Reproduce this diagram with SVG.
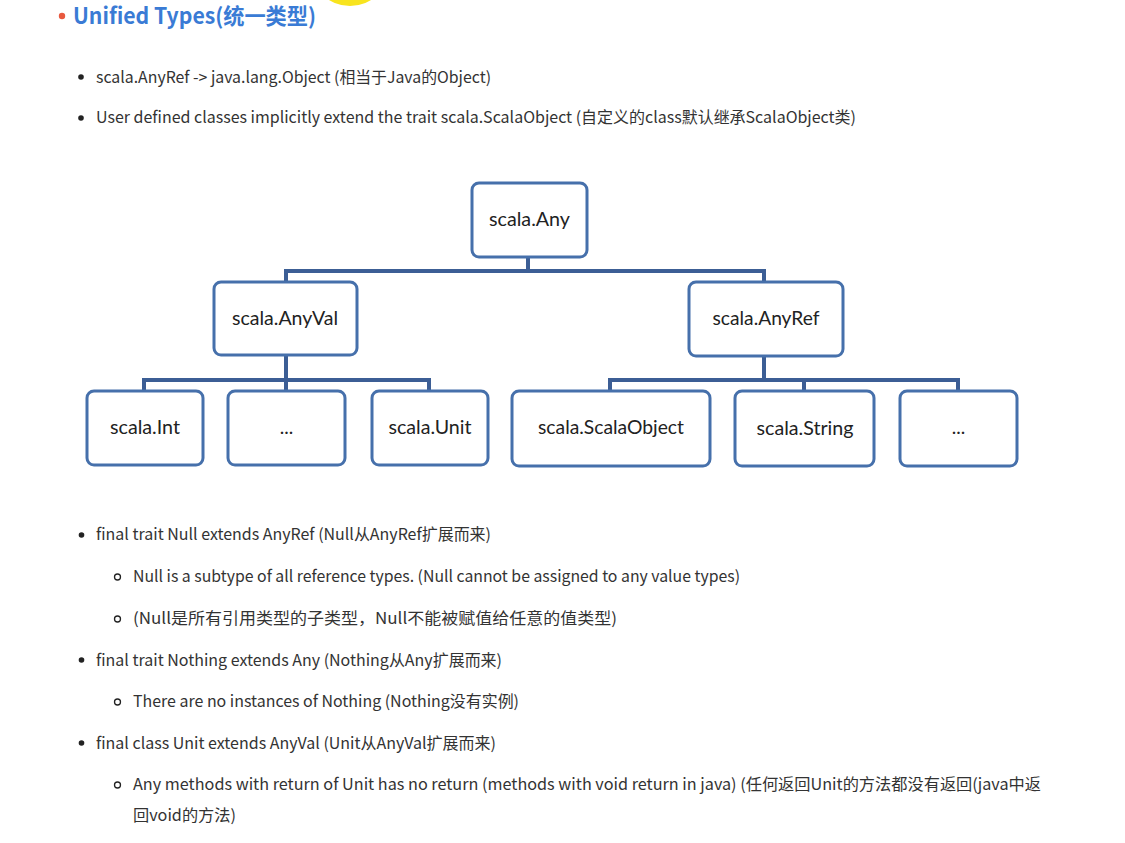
<svg xmlns="http://www.w3.org/2000/svg" width="1125" height="843" viewBox="0 0 1125 843">
<defs>
<style>
.body{font-family:"Noto Sans CJK SC","Noto Sans",sans-serif;font-size:16px;fill:#333333;}
.title{font-family:"Noto Sans CJK SC","Noto Sans",sans-serif;font-size:22px;font-weight:bold;fill:#3a7bd5;}
.box{fill:#ffffff;stroke:#4670ab;stroke-width:3;}
.lbl{font-family:Lato,"Liberation Sans",sans-serif;font-size:19px;fill:#222222;text-anchor:middle;}
.conn{fill:none;stroke:#3c5e95;stroke-width:4;stroke-linejoin:miter;}
.dot{fill:#222222;}
.sub{fill:none;stroke:#222222;stroke-width:1.3;}
</style>
</defs>
<rect width="1125" height="843" fill="#ffffff"/>
<circle cx="350" cy="-34" r="40" fill="#f8e41e"/>

<g id="title">
<circle cx="62" cy="16" r="3.2" fill="#e8593f"/>
<text class="title" x="73" y="24" textLength="243" lengthAdjust="spacingAndGlyphs">Unified Types(统一类型)</text>
</g>

<g id="top-bullets">
<circle class="dot" cx="81" cy="77" r="2.8"/>
<text class="body" x="96" y="83" textLength="395" lengthAdjust="spacingAndGlyphs">scala.AnyRef -&gt; java.lang.Object (相当于Java的Object)</text>
<circle class="dot" cx="81" cy="118" r="2.8"/>
<text class="body" x="96" y="123" textLength="760" lengthAdjust="spacingAndGlyphs">User defined classes implicitly extend the trait scala.ScalaObject (自定义的class默认继承ScalaObject类)</text>
</g>

<g id="connectors">
<path class="conn" d="M528 257 V271 M286 271 H764 M286 269 V282 M764 269 V282"/>
<path class="conn" d="M286 355 V380 M144 380 H429 M144 378 V391 M286 378 V391 M429 378 V391"/>
<path class="conn" d="M764 356 V380 M610 380 H958 M610 378 V391 M804 378 V391 M958 378 V391"/>
</g>

<g id="node-any">
<rect class="box" x="472" y="183" width="115" height="74" rx="7"/>
<text class="lbl" x="529.5" y="226" textLength="81" lengthAdjust="spacingAndGlyphs">scala.Any</text>
</g>
<g id="node-anyval">
<rect class="box" x="214" y="282" width="143" height="73" rx="7"/>
<text class="lbl" x="285" y="325" textLength="106" lengthAdjust="spacingAndGlyphs">scala.AnyVal</text>
</g>
<g id="node-anyref">
<rect class="box" x="689" y="282" width="154" height="74" rx="7"/>
<text class="lbl" x="766" y="325" textLength="107" lengthAdjust="spacingAndGlyphs">scala.AnyRef</text>
</g>
<g id="node-int">
<rect class="box" x="87" y="391" width="116" height="74" rx="7"/>
<text class="lbl" x="145" y="434" textLength="70" lengthAdjust="spacingAndGlyphs">scala.Int</text>
</g>
<g id="node-val-more">
<rect class="box" x="228" y="391" width="117" height="74" rx="7"/>
<text class="lbl" x="286.5" y="434">...</text>
</g>
<g id="node-unit">
<rect class="box" x="372" y="391" width="116" height="74" rx="7"/>
<text class="lbl" x="430" y="434" textLength="83" lengthAdjust="spacingAndGlyphs">scala.Unit</text>
</g>
<g id="node-scalaobject">
<rect class="box" x="512" y="391" width="198" height="75" rx="7"/>
<text class="lbl" x="611" y="434" textLength="146" lengthAdjust="spacingAndGlyphs">scala.ScalaObject</text>
</g>
<g id="node-string">
<rect class="box" x="735" y="391" width="139" height="75" rx="7"/>
<text class="lbl" x="805" y="435" textLength="97" lengthAdjust="spacingAndGlyphs">scala.String</text>
</g>
<g id="node-ref-more">
<rect class="box" x="900" y="391" width="117" height="75" rx="7"/>
<text class="lbl" x="958.5" y="434">...</text>
</g>

<g id="bottom-bullets">
<circle class="dot" cx="81.5" cy="535" r="2.8"/>
<text class="body" x="96" y="540" textLength="395" lengthAdjust="spacingAndGlyphs">final trait Null extends AnyRef (Null从AnyRef扩展而来)</text>
<circle class="sub" cx="117.5" cy="577" r="3"/>
<text class="body" x="133" y="582" textLength="607" lengthAdjust="spacingAndGlyphs">Null is a subtype of all reference types. (Null cannot be assigned to any value types)</text>
<circle class="sub" cx="117.5" cy="619" r="3"/>
<text class="body" x="133" y="624" textLength="484" lengthAdjust="spacingAndGlyphs">(Null是所有引用类型的子类型，Null不能被赋值给任意的值类型)</text>
<circle class="dot" cx="81.5" cy="660" r="2.8"/>
<text class="body" x="96" y="666" textLength="406" lengthAdjust="spacingAndGlyphs">final trait Nothing extends Any (Nothing从Any扩展而来)</text>
<circle class="sub" cx="117.5" cy="702" r="3"/>
<text class="body" x="133" y="707" textLength="386" lengthAdjust="spacingAndGlyphs">There are no instances of Nothing (Nothing没有实例)</text>
<circle class="dot" cx="81.5" cy="743" r="2.8"/>
<text class="body" x="96" y="749" textLength="400" lengthAdjust="spacingAndGlyphs">final class Unit extends AnyVal (Unit从AnyVal扩展而来)</text>
<circle class="sub" cx="117.5" cy="785" r="3"/>
<text class="body" x="133" y="790" textLength="908" lengthAdjust="spacingAndGlyphs">Any methods with return of Unit has no return (methods with void return in java) (任何返回Unit的方法都没有返回(java中返</text>
<text class="body" x="133" y="821" textLength="103" lengthAdjust="spacingAndGlyphs">回void的方法)</text>
</g>
</svg>
